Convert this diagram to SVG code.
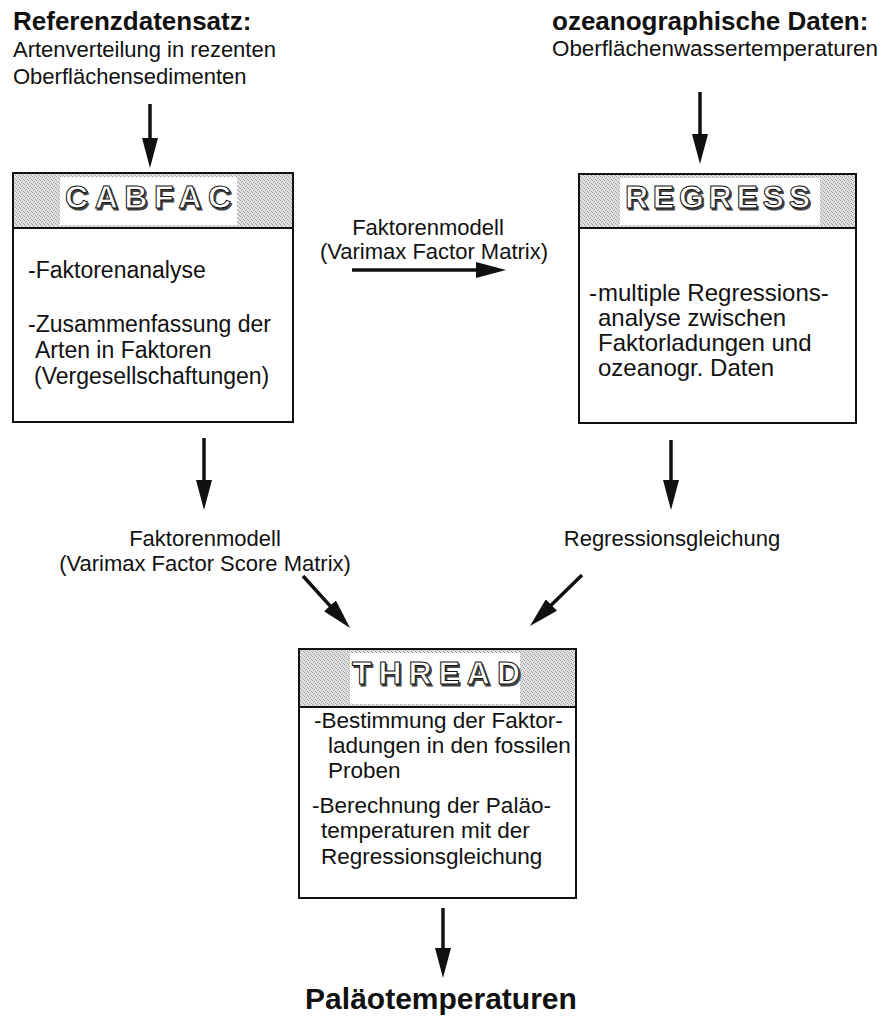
<svg xmlns="http://www.w3.org/2000/svg" width="883" height="1017" viewBox="0 0 883 1017">
<style>
text{font-family:"Liberation Sans",Arial,sans-serif;fill:#111}
.h{font-weight:bold;font-size:26px}
.t{font-size:22px}
.b{font-size:23px}
.br{font-size:24px}
.bt{font-size:22.5px}
.lbl{font-size:22px;text-anchor:middle}
.box{fill:#fff;stroke:#111;stroke-width:2}
.hdr{fill:url(#stip);stroke:#111;stroke-width:2}
.win{fill:#fff}
.ttl{font-weight:bold;font-size:32px;fill:#fff;stroke:#111;stroke-width:1px}
.sh{font-weight:bold;font-size:32px;fill:#444;stroke:#444;stroke-width:1px}
.ar{stroke:#111;stroke-width:3.5;fill:none;marker-end:url(#ah)}
</style>
<defs>
<pattern id="stip" width="4" height="4" patternUnits="userSpaceOnUse">
<rect width="4" height="4" fill="#e2e2e2"/>
<rect x="0" y="0" width="1" height="1" fill="#999"/>
<rect x="2" y="1" width="1" height="1" fill="#aaa"/>
<rect x="1" y="2" width="1" height="1" fill="#a5a5a5"/>
<rect x="3" y="3" width="1" height="1" fill="#9c9c9c"/>
</pattern>
<marker id="ah" viewBox="0 0 30 16" refX="8" refY="8" markerWidth="30" markerHeight="16" markerUnits="userSpaceOnUse" orient="auto">
<path d="M0,0 L30,8 L0,16 z" fill="#111"/>
</marker>
</defs>
<rect width="883" height="1017" fill="#fff"/>

<g id="input-ref">
<text class="h" x="13" y="30">Referenzdatensatz:</text>
<text class="t" x="13" y="57">Artenverteilung in rezenten</text>
<text class="t" x="13" y="84">Oberflächensedimenten</text>
</g>

<g id="input-ocean">
<text class="h" x="552" y="30">ozeanographische Daten:</text>
<text class="t" x="552" y="56" textLength="326" lengthAdjust="spacingAndGlyphs">Oberflächenwassertemperaturen</text>
</g>

<g id="cabfac">
<rect class="box" x="13" y="173" width="280" height="249"/>
<rect class="hdr" x="13" y="173" width="280" height="55"/>
<rect class="win" x="60" y="177" width="177" height="48"/>
<text class="sh" x="66.5" y="209.5" textLength="166" lengthAdjust="spacing">CABFAC</text>
<text class="ttl" x="65" y="208" textLength="166" lengthAdjust="spacing">CABFAC</text>
<text class="b" x="28" y="278">-Faktorenanalyse</text>
<text class="b" x="28" y="332">-Zusammenfassung der</text>
<text class="b" x="35" y="358">Arten in Faktoren</text>
<text class="b" x="34" y="384">(Vergesellschaftungen)</text>
</g>

<g id="regress">
<rect class="box" x="579" y="174" width="277" height="249"/>
<rect class="hdr" x="579" y="174" width="277" height="54"/>
<rect class="win" x="620" y="178" width="200" height="47"/>
<text class="sh" x="626.5" y="209.5" textLength="185" lengthAdjust="spacing">REGRESS</text>
<text class="ttl" x="625" y="208" textLength="185" lengthAdjust="spacing">REGRESS</text>
<text class="br" x="589" y="301">-<tspan x="598">multiple Regressions-</tspan></text>
<text class="br" x="598" y="326">analyse zwischen</text>
<text class="br" x="598" y="351">Faktorladungen und</text>
<text class="br" x="598" y="376">ozeanogr. Daten</text>
</g>

<g id="thread">
<rect class="box" x="299" y="649" width="277" height="249"/>
<rect class="hdr" x="299" y="649" width="277" height="58"/>
<rect class="win" x="350" y="653" width="170" height="51"/>
<text class="sh" x="353.5" y="685.5" textLength="168" lengthAdjust="spacing">THREAD</text>
<text class="ttl" x="352" y="684" textLength="168" lengthAdjust="spacing">THREAD</text>
<text class="bt" x="314" y="728">-Bestimmung der Faktor-</text>
<text class="bt" x="328" y="753">ladungen in den fossilen</text>
<text class="bt" x="328" y="778">Proben</text>
<text class="bt" x="312" y="813">-Berechnung der Paläo-</text>
<text class="bt" x="321" y="838">temperaturen mit der</text>
<text class="bt" x="321" y="864">Regressionsgleichung</text>
</g>

<g id="label-factor-matrix">
<text class="lbl" x="428" y="235">Faktorenmodell</text>
<text class="lbl" x="434" y="259">(Varimax Factor Matrix)</text>
</g>
<g id="label-score-matrix">
<text class="lbl" x="205" y="546">Faktorenmodell</text>
<text class="lbl" x="205" y="571">(Varimax Factor Score Matrix)</text>
</g>
<g id="label-regression">
<text class="lbl" x="672" y="546">Regressionsgleichung</text>
</g>
<g id="output">
<text x="441" y="1009" style="font-weight:bold;font-size:30px;text-anchor:middle">Paläotemperaturen</text>
</g>

<g id="connectors">
<line class="ar" x1="150" y1="104" x2="150" y2="146"/>
<line class="ar" x1="700" y1="92" x2="700" y2="142"/>
<line class="ar" x1="352" y1="270" x2="484" y2="270"/>
<line class="ar" x1="204" y1="438" x2="204" y2="488"/>
<line class="ar" x1="671" y1="440" x2="671" y2="488"/>
<line class="ar" x1="303" y1="576" x2="335.3" y2="611.7"/>
<line class="ar" x1="582" y1="575" x2="545.7" y2="610.6"/>
<line class="ar" x1="443" y1="908" x2="443" y2="956"/>
</g>
</svg>
